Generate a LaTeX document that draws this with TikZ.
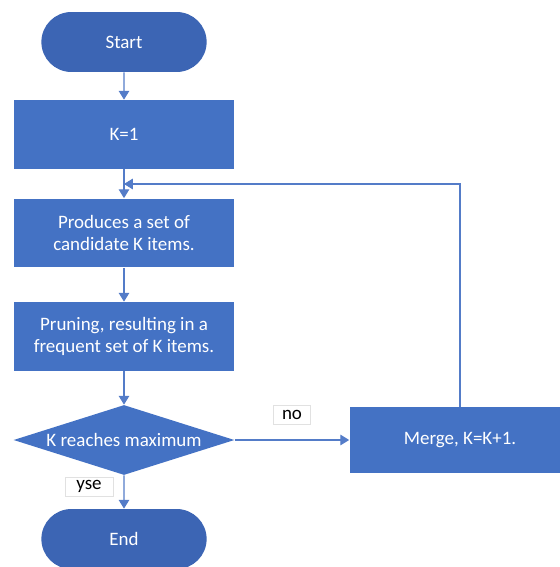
\documentclass[tikz,border=0pt]{standalone}
\usepackage{fontspec}
\setmainfont{Carlito}
\usetikzlibrary{shapes.misc, shapes.geometric, arrows.meta}

\definecolor{termBlue}{RGB}{60,101,180}
\definecolor{boxBlue}{RGB}{68,114,196}
\definecolor{lineBlue}{RGB}{84,124,200}
\definecolor{tagGrey}{RGB}{225,225,225}

\tikzset{
	terminal/.style={rounded rectangle, fill=termBlue, text=white, minimum width=3.54cm, minimum height=1.2cm, font=\fontsize{10.8}{12}\selectfont},
	stepbox/.style={rectangle, fill=boxBlue, text=white, minimum width=4.42cm, minimum height=1.38cm, align=center, font=\fontsize{10.8}{13}\selectfont},
	decision/.style={diamond, fill=boxBlue, text=white, aspect=3.16, minimum width=4.42cm, minimum height=1.4cm, inner sep=0pt, font=\fontsize{10.8}{12}\selectfont},
	tag/.style={rectangle, draw=tagGrey, line width=0.3pt, fill=white, text=black, minimum width=0.74cm, minimum height=0.38cm, inner sep=1pt, font=\fontsize{10.8}{12}\selectfont},
	flow/.style={draw=lineBlue, line width=0.6pt, -{Triangle[length=5pt, width=6pt]}}
}

\begin{document}
\begin{tikzpicture}[x=0.02cm, y=-0.02cm]
			\useasboundingbox (0, 0) rectangle (560, 567);
			\clip (0, 0) rectangle (560, 567);
			
			\node[terminal] (start) at (124, 42) {Start};
			\node[stepbox] (kOne) at (124, 134.5) {K=1};
			\node[stepbox] (produce) at (124, 233) {Produces a set of\\candidate K items.};
			\node[stepbox] (prune) at (124, 336.5) {Pruning, resulting in a\\frequent set of K items.};
			\node[decision] (reachMax) at (124, 440) {K reaches maximum};
			\node[terminal] (end) at (124, 539) {End};
			\node[stepbox, minimum height=1.32cm] (merge) at (460, 440) {Merge, K=K+1.};
			
			\coordinate (loopIn) at (124, 184);
			
			\draw[flow] (start) -- (kOne);
			\draw[flow] (kOne) -- (produce);
			\draw[flow] (produce) -- (prune);
			\draw[flow] (prune) -- (reachMax);
			\draw[flow] (reachMax) -- (end);
			\draw[flow] (reachMax) -- (merge);
			\draw[flow] (merge.north) |- (loopIn);
			
			\node[tag] (noLabel) at (292, 414.5) {no};
			\node[tag, minimum width=0.96cm] (yesLabel) at (89, 486.5) {yse};
			
		\end{tikzpicture}
\end{document}
